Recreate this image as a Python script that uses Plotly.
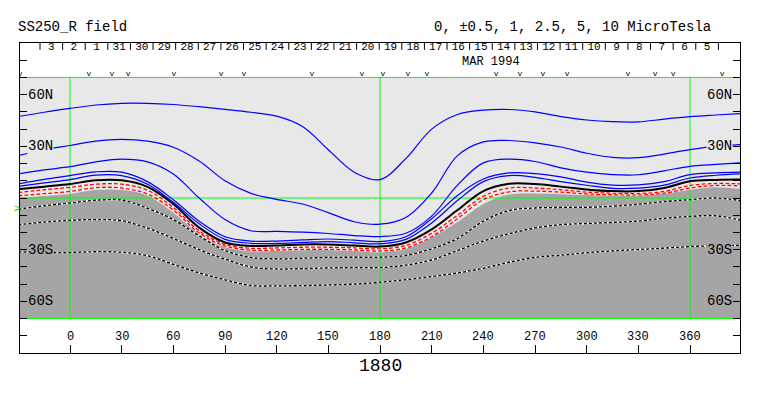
import plotly.graph_objects as go

# ---------------- data ----------------
LON = [-30, -15, 0, 15, 30, 45, 60, 75, 90, 105, 120, 135, 150, 165, 180,
       195, 210, 225, 240, 255, 270, 285, 300, 315, 330, 345, 360, 375, 390]

# positive-polarity contours (blue), north to south
L1 = [47.3, 49.8, 52, 54, 55, 55, 54.3, 53, 51.5, 49.8, 47.5, 41.5, 28, 15, 10.7,
      22.9, 40, 48.5, 51, 51.4, 50, 47.3, 45.3, 44.3, 44.2, 45.8, 47.2, 48.2, 49.1]
L2 = [24.6, 28, 30.5, 33, 34, 33, 29.5, 21.5, 10, 2.7, -0.8, -3.5, -8.5, -13.8, -15.2,
      -11.3, 2.9, 24.6, 32.6, 33.4, 32, 29.6, 26, 23.6, 23.4, 25.5, 28.1, 30, 31]
L3 = [14, 16.3, 18.2, 21, 22.6, 21, 14, 0, -12.5, -19, -19.4, -19.8, -20.6, -21.8, -22.4,
      -20.5, -10.5, 7.5, 20.4, 22.6, 21.2, 17.5, 15, 13.6, 13.5, 15.8, 18.4, 19.5, 20.4]
L4 = [8.2, 10.8, 13, 15.2, 15, 9.5, -1, -13.5, -22.5, -25, -25, -24.3, -23.8, -24.5, -25.3,
      -22.5, -12, 1.5, 11, 14.6, 14.2, 12.3, 9.2, 7.5, 7.6, 9.5, 13.6, 14.6, 15]
L5 = [6.7, 8.8, 10.7, 13.3, 13, 8, -2.5, -15, -24, -26.3, -26.4, -25.8, -25.3, -26, -26.6,
      -24, -14.5, -1.5, 9.5, 13, 12, 9.5, 7.4, 5.6, 5.7, 7.5, 11.6, 13.2, 14]
# neutral line (black) and the dotted red lines
NEUTRAL = [5.1, 6.6, 8.1, 10.3, 10.3, 6.5, -3.5, -17.2, -25.8, -27.8, -27.6, -27, -27, -27.6, -28.2,
           -25.8, -18.2, -7, 4, 8.3, 8.1, 6.6, 5, 4, 4, 5.8, 9.7, 10.5, 10.7]
RED1 = [3.2, 4.8, 6.2, 8, 8, 4.5, -5.5, -19, -27, -29.2, -29, -28.6, -28.6, -29, -29.5,
        -27.5, -20.5, -10, 1, 5.8, 5.8, 4.8, 3.4, 2.8, 2.6, 3.8, 7.3, 8.4, 8.2]
RED2 = [1.3, 2.5, 3.8, 6, 5.8, 2.3, -7, -20.3, -27.8, -30.3, -30.2, -29.8, -29.8, -30.2, -30.8,
        -29, -22.5, -12, -1, 3.6, 4, 3.4, 2.4, 1.9, 1.8, 2.8, 5.8, 7.3, 7]
# edge of the negative-polarity (dark) region
NEG_EDGE = [0, 1.2, 2.3, 4.6, 4.6, 1.5, -8.5, -21, -28.5, -31, -30.7, -30.3, -30.2, -30.8, -31.6,
            -29.5, -22.8, -14, -3.5, 2, 2.6, 2.2, 1.7, 1.5, 1.5, 2.6, 4.8, 6.3, 5.2]
# negative-polarity contours (dashed)
D1 = [-6.5, -4.5, -2.9, -1.3, -1.2, -6, -12.5, -22, -30.5, -34.5, -35.3, -35, -34.5, -34.4, -34.4,
      -33.3, -29.5, -23.5, -13.5, -7.3, -5.8, -5.5, -5.4, -4.8, -3.6, -2.1, -1, 0, -1.6]
D2 = [-15.5, -14, -13, -12.5, -13.2, -17.5, -23.5, -30, -35.5, -40, -41.2, -41, -40.6, -40.4, -40.4,
      -39, -36, -30.5, -25, -20.8, -17.4, -15.5, -14.8, -14.2, -13.4, -11.8, -10.7, -10.3, -13]
D3 = [-31.2, -31.6, -31.7, -31.2, -31.5, -33.5, -38.5, -43.5, -47.5, -50.8, -51, -50.9, -50.5, -50, -48.9,
      -47.4, -45.6, -43.5, -40.8, -37.3, -34.5, -33.2, -31.8, -30.7, -29.9, -29.1, -28.2, -27.7, -27.5]

LON_TICKS = [0, 30, 60, 90, 120, 150, 180, 210, 240, 270, 300, 330, 360]
LAT_LABELS = [60, 30, -30, -60]
LAT_TEXT = ["60N", "30N", "30S", "60S"]
GRID_LON = [0, 180, 360]
GRID_LAT = [70, 0, -70]

DAY_LABELS = ["3", "2", "1", "31", "30", "29", "28", "27", "26", "25", "24", "23", "22", "21", "20",
              "19", "18", "17", "16", "15", "14", "13", "12", "11", "10", "9", "8", "7", "6", "5"]
DAY_EDGE0 = -17.42      # longitude of first day boundary
DAY_STEP = 13.13        # degrees per day

V_LON = [-29, 11, 24.4, 33.7, 60.4, 87.7, 101, 140.5, 169.5, 181.7, 196.2, 207.3,
         247.4, 261.3, 274.6, 288.6, 324, 339.7, 350.2, 378.6]
B0 = -6.5

# ---------------- layout constants ----------------
W, H = 763, 396
ML, MR, MT, MB = 20, 23, 43, 43
PW, PH = W - ML - MR, H - MT - MB
X0, X1 = -29.03, 389.03
LIGHT, DARK = "#e8e8e8", "#a5a5a5"
MONO = "Liberation Mono, DejaVu Sans Mono, monospace"


def px(x):
    return (x - ML) / PW


def py(y):
    return (H - MB - y) / PH


fig = go.Figure()

# dark negative region
fig.add_trace(go.Scatter(x=LON, y=[GRID_LAT[2]] * len(LON), mode="lines",
                         line=dict(width=0, color="rgba(0,0,0,0)"), hoverinfo="skip"))
fig.add_trace(go.Scatter(x=LON, y=NEG_EDGE, mode="lines", fill="tonexty", fillcolor=DARK,
                         line=dict(width=0, shape="spline", color="rgba(0,0,0,0)"), hoverinfo="skip"))

# green grid
gx, gy = [], []
for la in GRID_LAT:
    gx += [X0, X1, None]
    gy += [la, la, None]
for lo in GRID_LON:
    gx += [lo, lo, None]
    gy += [GRID_LAT[0], GRID_LAT[2], None]
fig.add_trace(go.Scatter(x=gx, y=gy, mode="lines", line=dict(color="#00ff00", width=1),
                         hoverinfo="skip"))

# dashed negative contours
for d in (D1, D2, D3):
    fig.add_trace(go.Scatter(x=LON, y=d, mode="lines",
                             line=dict(color="white", width=1.3, shape="spline")))
    fig.add_trace(go.Scatter(x=LON, y=d, mode="lines",
                             line=dict(color="black", width=1.3, shape="spline", dash="3px,2px")))

# red dotted lines
for r in (RED2, RED1):
    fig.add_trace(go.Scatter(x=LON, y=r, mode="lines",
                             line=dict(color="white", width=1.3, shape="spline")))
    fig.add_trace(go.Scatter(x=LON, y=r, mode="lines",
                             line=dict(color="#ff0000", width=1.3, shape="spline", dash="4px,2px")))

# neutral line
fig.add_trace(go.Scatter(x=LON, y=NEUTRAL, mode="lines",
                         line=dict(color="black", width=2, shape="spline")))

# blue positive contours
for b in (L5, L4, L3, L2, L1):
    fig.add_trace(go.Scatter(x=LON, y=b, mode="lines",
                             line=dict(color="#0000ff", width=1.2, shape="spline")))

# day ticks along the top
tx, ty = [], []
for k in range(len(DAY_LABELS) + 1):
    lo = DAY_EDGE0 + k * DAY_STEP
    tx += [lo, lo, None]
    ty += [90, 86, None]
fig.add_trace(go.Scatter(x=tx, y=ty, mode="lines", line=dict(color="black", width=1),
                         hoverinfo="skip"))
fig.add_trace(go.Scatter(x=[DAY_EDGE0 + (i + 0.5) * DAY_STEP for i in range(len(DAY_LABELS))],
                         y=[87.3] * len(DAY_LABELS), mode="text", text=DAY_LABELS,
                         textfont=dict(family=MONO, size=11, color="black"),
                         textposition="middle center", hoverinfo="skip"))

# 'v' markers
fig.add_trace(go.Scatter(x=V_LON, y=[71.8] * len(V_LON), mode="text", text=["v"] * len(V_LON),
                         textfont=dict(family=MONO, size=8, color="black"),
                         textposition="middle center", cliponaxis=True, hoverinfo="skip"))

ann = []
# longitude labels inside the bottom band
for t in LON_TICKS:
    ann.append(dict(x=t, y=-80.7, xref="x", yref="y", text=str(t), showarrow=False,
                    font=dict(family=MONO, size=12, color="black"), xanchor="center", yanchor="middle"))
# latitude labels
for la, txt in zip(LAT_LABELS, LAT_TEXT):
    bg = LIGHT if la > 0 else DARK
    ann.append(dict(x=px(27), y=la, xref="paper", yref="y", text=txt, showarrow=False,
                    font=dict(family=MONO, size=14, color="black"), xanchor="left", yanchor="middle",
                    bgcolor=bg, borderpad=0))
    ann.append(dict(x=px(733), y=la, xref="paper", yref="y", text=txt, showarrow=False,
                    font=dict(family=MONO, size=14, color="black"), xanchor="right", yanchor="middle",
                    bgcolor=bg, borderpad=0))
# titles
ann.append(dict(x=px(16), y=py(27), xref="paper", yref="paper", text="SS250_R field", showarrow=False,
                font=dict(family=MONO, size=14, color="black"), xanchor="left", yanchor="middle"))
ann.append(dict(x=px(432), y=py(27), xref="paper", yref="paper",
                text="0, ±0.5, 1, 2.5, 5, 10 MicroTesla", showarrow=False,
                font=dict(family=MONO, size=14, color="black"), xanchor="left", yanchor="middle"))
ann.append(dict(x=px(491), y=py(61.5), xref="paper", yref="paper", text="MAR 1994", showarrow=False,
                font=dict(family=MONO, size=12, color="black"), xanchor="center", yanchor="middle"))
ann.append(dict(x=0.5, y=py(365.5), xref="paper", yref="paper", text="1880", showarrow=False,
                font=dict(family=MONO, size=18, color="black"), xanchor="center", yanchor="middle"))
ann.append(dict(x=px(17), y=B0, xref="paper", yref="y", text=">", showarrow=False,
                font=dict(family=MONO, size=11, color="#00cc00"), xanchor="center", yanchor="middle"))

fig.update_layout(
    width=W, height=H,
    margin=dict(l=ML, r=MR, t=MT, b=MB, pad=0),
    paper_bgcolor="white", plot_bgcolor="white",
    showlegend=False,
    annotations=ann,
    shapes=[dict(type="rect", xref="paper", yref="y", x0=0, x1=1, y0=GRID_LAT[2], y1=GRID_LAT[0],
                 fillcolor=LIGHT, line=dict(width=0), layer="below")],
    xaxis=dict(range=[X0, X1], showgrid=False, zeroline=False, showline=True, linecolor="black",
               linewidth=1, mirror=True, ticks="inside", ticklen=8, tickcolor="black",
               tickvals=LON_TICKS, showticklabels=False, fixedrange=True),
    yaxis=dict(range=[-90, 90], showgrid=False, zeroline=False, showline=True, linecolor="black",
               linewidth=1, mirror="ticks", ticks="inside", ticklen=7, tickcolor="black",
               tick0=0, dtick=10, showticklabels=False, fixedrange=True),
)

fig.write_html("out.html", config={"displayModeBar": False},
               post_script="document.body.style.margin='0';document.body.style.padding='0';"
                           "document.body.style.overflow='hidden';")
